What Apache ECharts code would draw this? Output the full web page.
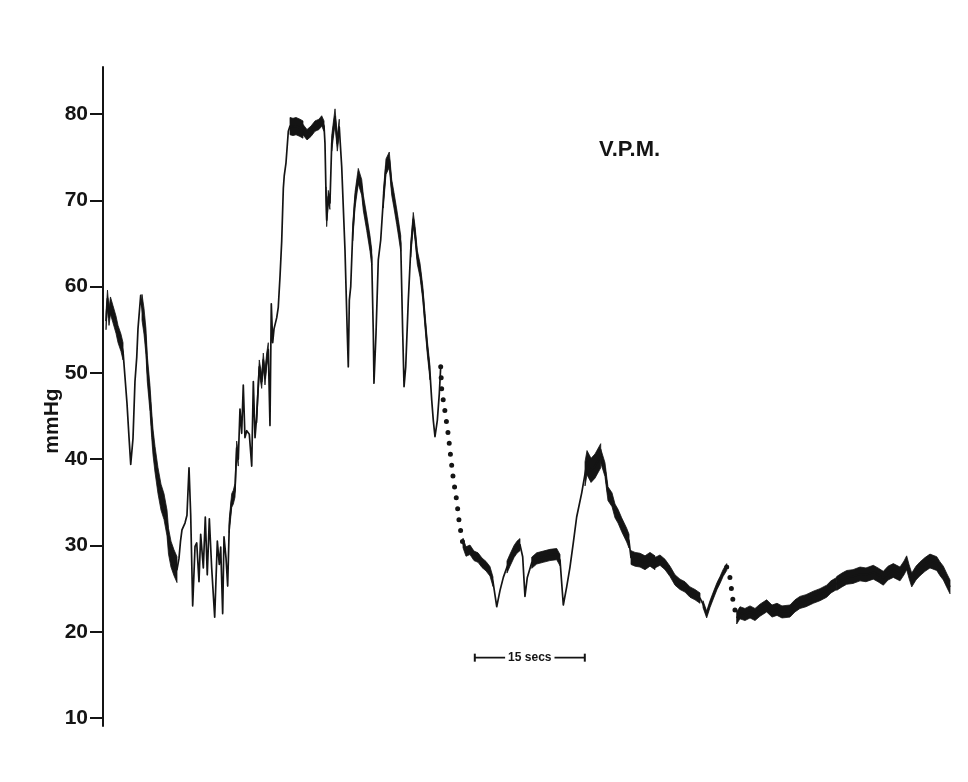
<!DOCTYPE html>
<html><head><meta charset="utf-8">
<script src="https://cdn.jsdelivr.net/npm/echarts@6/dist/echarts.min.js"></script>
<style>html,body{margin:0;padding:0;background:#fff}#c{width:968px;height:782px}</style>
</head><body><div id="c"></div>
<script>
// ---- data (time in seconds, pressure in mmHg) ----
const yTicks = [10, 20, 30, 40, 50, 60, 70, 80];

// segment A: start of recording up to first gap
const tA = [0.41,0.61,0.82,1.02,1.36,1.77,2.05,2.45,2.73,3.00,
  3.27,3.55,3.78,4.09,4.36,4.60,4.77,5.14,5.32,5.59,
  5.86,6.04,6.41,6.64,6.82,7.09,7.50,7.91,8.32,8.73,
  8.93,9.27,9.68,10.09,10.36,10.57,10.77,11.18,11.45,11.73,
  11.96,12.23,12.55,12.78,13.09,13.32,13.68,13.95,14.22,14.50,
  14.82,15.23,15.59,15.86,16.05,16.32,16.50,16.77,17.00,17.22,
  17.55,17.77,18.00,18.23,18.45,18.68,18.91,19.13,19.36,19.60,
  19.95,20.28,20.50,20.73,20.96,21.31,21.64,21.86,22.09,22.32,
  22.54,22.77,22.95,23.14,23.32,23.69,23.90,24.14,24.37,24.59,
  24.72,24.95,25.27,25.50,25.91,26.32,26.86,27.27,27.82,28.36,
  28.91,29.45,29.82,30.14,30.27,30.41,30.50,30.72,30.95,31.19,
  31.40,31.64,31.95,32.22,32.55,33.00,33.31,33.45,33.59,33.78,
  34.05,34.36,34.81,35.28,35.50,35.96,36.41,36.64,36.86,36.95,
  37.23,37.54,37.87,38.22,38.59,39.04,39.37,39.68,40.05,40.27,
  40.60,40.87,41.05,41.28,41.63,41.96,42.31,42.55,42.86,43.23,
  43.60,43.91,44.22,44.59,44.82,45.04,45.27,45.59,45.86,46.05];
const pA = [56.0,58.6,56.5,57.8,56.8,55.6,54.5,53.5,52.5,49.5,
  46.5,42.5,39.4,42.4,49.0,51.8,55.1,59.0,57.6,56.0,
  53.6,50.5,47.0,44.0,42.0,40.0,37.5,35.6,34.5,32.6,
  30.5,29.0,28.0,27.2,28.5,30.5,31.8,32.6,33.5,39.0,
  33.5,23.0,29.9,30.3,25.8,31.3,27.4,33.3,26.6,33.1,
  27.4,21.7,30.5,27.8,29.8,22.1,31.0,28.6,25.3,32.3,
  35.2,35.6,36.4,41.3,40.0,45.8,43.0,48.6,42.5,43.3,
  42.9,39.2,49.0,42.5,45.0,50.7,49.0,51.5,49.4,51.5,
  52.7,43.9,58.0,53.5,55.1,56.4,57.6,61.2,65.3,71.4,
  72.9,74.3,78.0,78.6,78.5,78.6,78.4,78.2,77.6,78.0,
  78.6,78.8,79.2,78.6,76.6,70.8,67.7,70.4,69.7,76.6,
  78.1,79.7,76.6,78.5,73.9,64.2,54.6,50.7,58.4,60.0,
  66.2,70.0,72.8,71.5,69.7,67.4,65.0,63.4,54.6,48.8,
  54.6,63.1,65.4,70.0,73.9,74.7,71.5,70.0,68.1,66.9,
  65.0,54.6,48.4,50.7,58.4,64.2,67.8,66.2,63.4,61.9,
  59.3,56.1,53.0,50.0,46.9,44.5,42.6,44.5,47.6,50.7];

// first gap (dotted)
const tG1 = [46.05,46.19,46.64,47.09,47.41,47.77,48.23,48.59,49.05];
const pG1 = [50.7,48.0,45.5,42.8,40.3,37.7,35.2,32.6,30.3];

// segment C
const tC = [49.09,49.50,50.04,50.59,51.14,51.68,52.23,52.77,53.18,53.69,
  54.14,54.59,55.09,55.50,56.05,56.45,56.86,57.23,57.54,57.86,
  58.46,59.14,60.04,60.95,61.87,62.32,62.77,63.23,63.68,64.13,
  64.59,65.28,65.73,66.00,66.55,67.09,67.87,68.45,68.86,69.41,
  69.82,70.23,70.73,71.41,71.73,72.00,72.55,73.23,73.91,74.59,
  75.27,75.95,76.64,77.32,78.00,78.68,79.36,80.05,80.73,81.41,
  81.82,82.32,82.77,83.22,83.73,84.14,84.55,85.05];
const pC = [30.3,29.3,29.5,28.8,28.6,28.0,27.6,27.0,25.8,22.9,
  24.8,26.3,27.5,28.3,29.3,29.8,30.1,28.7,24.1,26.3,
  28.0,28.5,28.7,28.9,29.0,28.3,23.1,25.2,27.5,30.3,
  33.3,36.1,38.3,39.6,38.7,39.2,40.4,38.8,36.0,35.3,
  34.0,33.4,32.4,31.2,30.5,28.6,28.4,28.3,28.0,28.4,
  28.0,28.3,27.8,27.0,26.0,25.5,25.2,24.6,24.3,23.9,
  23.2,22.0,23.2,24.2,25.3,26.0,26.8,27.5];

// second gap (dotted)
const tG2 = [85.05,85.59,85.73,85.95,86.41];
const pG2 = [27.5,26.0,24.6,23.4,21.6];

// segment D
const tD = [86.41,86.86,87.54,88.23,88.91,89.59,90.50,91.23,91.91,92.59,
  93.68,94.36,95.04,95.86,96.86,97.77,98.68,99.27,100.05,100.77,
  101.41,102.27,103.23,104.04,105.04,105.68,106.41,107.05,107.77,108.68,
  109.23,109.59,109.91,110.28,110.86,111.41,112.09,112.77,113.69,114.14,
  114.59,115.09,115.50];
const pD = [21.6,22.2,22.0,22.3,22.0,22.5,23.0,22.4,22.6,22.3,
  22.4,23.0,23.4,23.6,24.0,24.3,24.7,25.2,25.6,26.0,
  26.3,26.4,26.7,26.6,26.9,26.6,26.2,26.8,27.1,26.7,
  27.4,28.0,27.0,26.0,26.8,27.3,27.8,28.2,27.9,27.3,
  26.8,25.9,25.2];

// pulsatile stretches: [start s, end s, pulse amplitude mmHg]
const pulseBands = [[0.4,2.9,2.0],[5.3,10.1,3.0],[17.1,18.5,1.6],[20.9,22.6,1.6],
  [25.4,27.3,2.0],[27.2,30.2,1.2],[30.35,30.95,1.5],[31.1,32.3,1.8],
  [34.0,36.7,1.8],[38.2,40.6,1.8],[41.9,44.6,1.6],
  [49.0,53.2,1.1],[54.6,56.9,1.4],[57.9,62.4,1.3],[65.7,68.0,2.8],[67.8,71.8,1.6],
  [72.0,75.4,1.6],[75.2,81.5,1.2],[81.8,85.1,0.8],
  [86.4,100.1,1.4],[100.0,115.5,1.6]];

// time scale bar
const scaleBarT = [50.7, 65.7];
const scaleBarP = 17;
const scaleBarText = '15 secs';

// ---- chart ----
const ink = '#141414';
const FONT = '"Liberation Sans", Arial, Helvetica, sans-serif';
const pair = (ts, ps) => ts.map((t, i) => [t, ps[i]]);
const segA = pair(tA, pA), segC = pair(tC, pC), segD = pair(tD, pD);
const allSolid = segA.concat(segC, segD);

const chart = echarts.init(document.getElementById('c'), null, {renderer: 'canvas'});

const lineSeries = (data, width) => ({
  type: 'line', data, showSymbol: false, symbol: 'none', silent: true, z: 3,
  lineStyle: {color: ink, width, join: 'round'}
});

const series = [
  lineSeries(segA, 1.7), lineSeries(segC, 1.7), lineSeries(segD, 1.7),
  {type: 'line', data: pair(tG1, pG1), showSymbol: false, symbol: 'none', silent: true,
   lineStyle: {color: ink, width: 5, type: [0, 11], cap: 'round'}},
  {type: 'line', data: pair(tG2, pG2), showSymbol: false, symbol: 'none', silent: true,
   lineStyle: {color: ink, width: 5, type: [0, 11], cap: 'round'}},
  {type: 'line', data: scaleBarT.map(t => [t, scaleBarP]), symbol: 'rect', symbolSize: [2, 8],
   showSymbol: true, silent: true, itemStyle: {color: ink}, lineStyle: {color: ink, width: 1.8}},
  // pulse oscillation: vertical band of the given amplitude around the trace
  {type: 'custom', silent: true, z: 2, clip: false,
   data: pulseBands.map(b => [b[0], b[1]]),
   renderItem: (params, api) => {
     const b = pulseBands[params.dataIndex];
     const pts = allSolid.filter(d => d[0] >= b[0] && d[0] <= b[1]);
     const upper = pts.map(d => api.coord([d[0], d[1] + b[2] / 2]));
     const lower = pts.map(d => api.coord([d[0], d[1] - b[2] / 2])).reverse();
     return {type: 'polygon', shape: {points: upper.concat(lower)},
             style: {fill: ink, stroke: ink, lineWidth: 0.8, lineJoin: 'round'}};
   }}
];

chart.setOption({
  animation: false,
  backgroundColor: '#ffffff',
  grid: {left: 103, top: 67, width: 850.67, height: 659, containLabel: false},
  xAxis: {type: 'value', min: 0, max: 116, show: false},
  yAxis: {
    type: 'value', min: 9.08, max: 85.45,
    axisLine: {show: true, lineStyle: {color: ink, width: 2}},
    axisTick: {show: true, length: 13, customValues: yTicks, lineStyle: {color: ink, width: 2}},
    axisLabel: {customValues: yTicks, fontSize: 21, fontWeight: 'bold', fontFamily: FONT, color: ink, margin: 15},
    splitLine: {show: false}
  },
  series
});

const mid = chart.convertToPixel({gridIndex: 0}, [(scaleBarT[0] + scaleBarT[1]) / 2, scaleBarP]);

chart.setOption({
  graphic: [
    {type: 'text', x: 52, y: 421, rotation: Math.PI / 2,
     style: {text: 'mmHg', font: 'bold 21px ' + FONT, fill: ink, align: 'center', verticalAlign: 'middle'}},
    {type: 'text', x: 599, y: 150,
     style: {text: 'V.P.M.', font: 'bold 22px ' + FONT, fill: ink, align: 'left', verticalAlign: 'middle'}},
    {type: 'text', x: mid[0], y: mid[1], z: 100,
     style: {text: scaleBarText, font: 'bold 12px ' + FONT, fill: ink, align: 'center', verticalAlign: 'middle',
             backgroundColor: '#ffffff', padding: [1, 3]}}
  ]
});
</script>
</body></html>
